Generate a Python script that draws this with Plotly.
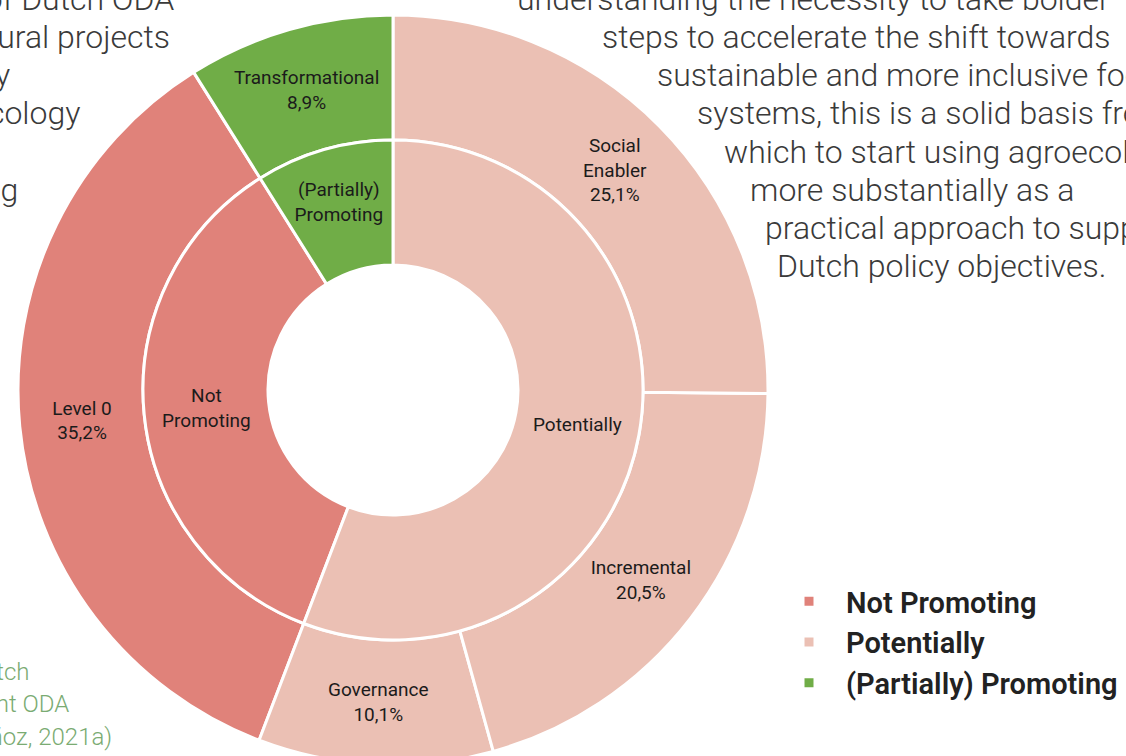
import plotly.graph_objects as go

# ---- data ----
groups = ["Not Promoting", "Potentially", "(Partially) Promoting"]
group_text = ["Not<br>Promoting", "Potentially", "(Partially)<br>Promoting"]
sub_labels = ["Level 0", "Governance", "Incremental", "Social<br>Enabler", "Transformational"]
sub_values = [35.2, 10.1, 20.5, 25.1, 8.9]
sub_group = ["Not Promoting", "Potentially", "Potentially", "Potentially", "(Partially) Promoting"]
group_colors = ["#E0827A", "#EBC0B4", "#70AD47"]

group_values = [round(sum(v for v, g in zip(sub_values, sub_group) if g == name), 1) for name in groups]
color_of = dict(zip(groups, group_colors))
total = sum(group_values)
rot = group_values[1] / total * 360

sub_text = [f"{l}<br>{v:.1f}".replace(".", ",") + "%" for l, v in zip(sub_labels, sub_values)]

W, H = 1126, 770
cx, cy, R = 393, 390, 375
r_mid = 250
r_hole = 125

def dom(r):
    return dict(x=[(cx - r) / W, (cx + r) / W], y=[1 - (cy + r) / H, 1 - (cy - r) / H])

def px(x):
    return x / W

def py(y):
    return 1 - y / H

label_font = dict(family="Roboto", size=19, color="#1b1b1b")

fig = go.Figure()
fig.add_trace(go.Pie(
    labels=sub_labels, values=sub_values, text=sub_text, texttemplate="%{text}",
    textposition="inside", insidetextorientation="horizontal",
    hole=r_mid / R, sort=False, direction="counterclockwise", rotation=rot,
    marker=dict(colors=[color_of[g] for g in sub_group], line=dict(color="white", width=3)),
    domain=dom(R), showlegend=False, hoverinfo="skip", textfont=label_font,
))
fig.add_trace(go.Pie(
    labels=groups, values=group_values, text=group_text, texttemplate="%{text}",
    textposition="inside", insidetextorientation="horizontal",
    hole=r_hole / r_mid, sort=False, direction="counterclockwise", rotation=rot,
    marker=dict(colors=group_colors, line=dict(color="white", width=3)),
    domain=dom(r_mid), showlegend=True, hoverinfo="skip", textfont=label_font,
))

body_font = dict(family="Roboto", size=32, color="#3a3a3a", weight=300)
annos = []
left_lines = [("share of Dutch ODA", 176, -1), ("to agricultural projects", 172, 37), ("directly", 12, 75),
              ("agroecology", 82, 113), ("promoting", 20, 190)]
for t, xr, yc in left_lines:
    annos.append(dict(text=t, x=px(xr), y=py(yc), xref="paper", yref="paper",
                      xanchor="right", yanchor="middle", showarrow=False, font=body_font))
right_lines = [("understanding the necessity to take bolder", 515, -1),
               ("steps to accelerate the shift towards", 600, 37),
               ("sustainable and more inclusive food", 655, 75),
               ("systems, this is a solid basis from", 695, 113),
               ("which to start using agroecology", 722, 152),
               ("more substantially as a", 748, 190),
               ("practical approach to support", 763, 228),
               ("Dutch policy objectives.", 775, 266)]
for t, xl, yc in right_lines:
    annos.append(dict(text=t, x=px(xl), y=py(yc), xref="paper", yref="paper",
                      xanchor="left", yanchor="middle", showarrow=False, font=body_font))
cap_font = dict(family="Roboto", size=24, color="#7aab72", weight=300)
cap_lines = [("of Dutch", 31, 672), ("agriculture-relevant ODA", 71, 704), ("(Muñoz, 2021a)", 114, 737)]
for t, xr, yc in cap_lines:
    annos.append(dict(text=t, x=px(xr), y=py(yc), xref="paper", yref="paper",
                      xanchor="right", yanchor="middle", showarrow=False, font=cap_font))

fig.update_layout(
    width=W, height=H, margin=dict(l=0, r=0, t=0, b=0),
    paper_bgcolor="white", plot_bgcolor="white",
    annotations=annos,
    uniformtext=dict(minsize=19, mode="show"),
    legend=dict(x=px(772), y=py(576), xanchor="left", yanchor="top", itemwidth=64,
                font=dict(family="Roboto", size=29, color="#222222", weight=600),
                bgcolor="rgba(0,0,0,0)"),
)
fig.write_html(
    "out.html",
    config={"displayModeBar": False},
    post_script="document.body.style.margin='0';document.body.style.overflow='hidden';"
                "document.documentElement.style.overflow='hidden';",
)
